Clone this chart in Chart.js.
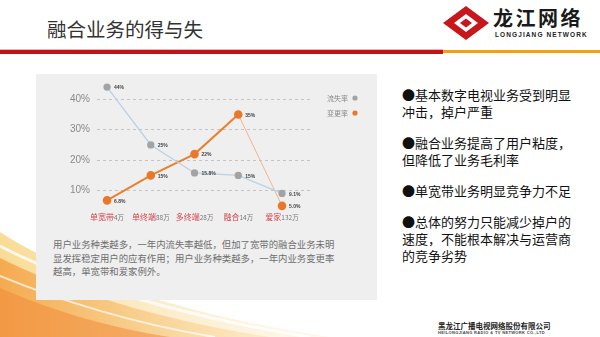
<!DOCTYPE html>
<html lang="zh">
<head>
<meta charset="UTF-8">
<title>融合业务的得与失</title>
<style>
    body {
        margin: 0;
        width: 600px;
        height: 337px;
        background: #ffffff;
        position: relative;
        overflow: hidden;
        font-family: "Noto Sans CJK SC", "Noto Sans", sans-serif;
    }
    .title {
        position: absolute;
        left: 47px;
        top: 16px;
        font-size: 19.5px;
        color: #333;
        line-height: 26px;
    }
    .bar-red {
        position: absolute; left: 0; top: 50px; width: 443px; height: 4px;
        background: #c0141c;
        box-shadow: 0 -1px 0 #f2b0b0;
    }
    .bar-orange {
        position: absolute; left: 443px; top: 50px; width: 157px; height: 3px;
        background: #f0a010;
    }
    .logo-cn {
        position: absolute; left: 493px; top: 6px;
        font-size: 20px; font-weight: bold; letter-spacing: 2.5px; color: #1a1a1a;
        line-height: 24px;
    }
    .logo-en {
        position: absolute; left: 495px; top: 31px;
        font-family: "Liberation Sans", Arial, sans-serif;
        font-size: 6.5px; font-weight: bold; letter-spacing: 1.1px; color: #222;
    }
    .swoosh { position: absolute; left: 0; top: 0; }
    .box {
        position: absolute;
        left: 36px; top: 74px; width: 341px; height: 226px;
        background: #efefef;
    }
    #chart { position: absolute; left: 0; top: -6px; }
    .note {
        position: absolute;
        left: 17px; top: 164px;
        font-size: 9.4px; line-height: 13.5px; color: #6e6e6e;
        white-space: nowrap;
    }
    .bullets {
        position: absolute; left: 402px; top: 86px;
        font-size: 13px; line-height: 17px; color: #111;
    }
    .bullets p { margin: 0 0 14px 0; white-space: nowrap; }
    .footer-cn {
        position: absolute; left: 438px; top: 321px;
        font-size: 7.5px; font-weight: bold; color: #222; line-height: 10px;
    }
    .footer-en {
        position: absolute; left: 438px; top: 330px;
        font-family: "Liberation Sans", Arial, sans-serif;
        font-size: 4px; font-weight: bold; color: #444; letter-spacing: 0.35px;
    }
</style>
</head>
<body>
<svg class="swoosh" width="600" height="337">
    <defs>
        <linearGradient id="g1" x1="0" y1="0" x2="1" y2="0">
            <stop offset="0" stop-color="#f39a3a" stop-opacity="0.75"/>
            <stop offset="1" stop-color="#f7c46a" stop-opacity="0.2"/>
        </linearGradient>
        <linearGradient id="g2" x1="0" y1="0" x2="1" y2="0">
            <stop offset="0" stop-color="#f7d27a" stop-opacity="0.8"/>
            <stop offset="1" stop-color="#fbe3b0" stop-opacity="0.2"/>
        </linearGradient>
    </defs>
    <path d="M0,232 C60,272 180,315 330,337 L0,337 Z" fill="url(#g2)"/>
    <path d="M0,258 C70,293 170,322 270,337 L0,337 Z" fill="url(#g1)"/>
    <path d="M0,288 C50,310 110,328 170,337 L0,337 Z" fill="#f08a3a" opacity="0.55"/>
    <path d="M0,246 C70,283 190,318 310,337" fill="none" stroke="#ffffff" stroke-width="3" opacity="0.8"/>
    <path d="M0,276 C60,301 140,325 215,337" fill="none" stroke="#ffffff" stroke-width="2" opacity="0.7"/>
    <!-- logo mark -->
    <polygon points="466,6 489,23 466,40 443,23" fill="#c8161d"/>
    <polygon points="466,14 478,23 466,32 454,23" fill="#ffffff"/>
    <polygon points="466,18.5 472,23 466,27.5 460,23" fill="#c8161d"/>
</svg>

<div class="title">融合业务的得与失</div>
<div class="bar-red"></div>
<div class="bar-orange"></div>
<div class="logo-cn">龙江网络</div>
<div class="logo-en">LONGJIANG NETWORK</div>

<div class="box">
    <canvas id="chart" width="341" height="167"></canvas>
    <div class="note">用户业务种类越多，一年内流失率越低，但加了宽带的融合业务未明<br>显发挥稳定用户的应有作用；用户业务种类越多，一年内业务变更率<br>越高，单宽带和爱家例外。</div>
</div>

<div class="bullets">
    <p>●基本数字电视业务受到明显<br>冲击，掉户严重</p>
    <p>●融合业务提高了用户粘度，<br>但降低了业务毛利率</p>
    <p>●单宽带业务明显竞争力不足</p>
    <p>●总体的努力只能减少掉户的<br>速度，不能根本解决与运营商<br>的竞争劣势</p>
</div>

<div class="footer-cn">黑龙江广播电视网络股份有限公司</div>
<div class="footer-en">HEILONGJIANG RADIO &amp; TV NETWORK CO.,LTD</div>

<script src="https://cdn.jsdelivr.net/npm/chart.js"></script>
<script>
    const categories = ['单宽带', '单终端', '多终端', '融合', '爱家'];
    const userCounts = ['4万', '88万', '28万', '14万', '132万'];
    const lossRate = [44, 25, 15.8, 15, 9.1];
    const lossLabels = ['44%', '25%', '15.8%', '15%', '9.1%'];
    const changeRate = [6.8, 15, 22, 35, 5.0];
    const changeLabels = ['6.8%', '15%', '22%', '35%', '5.0%'];
    const yTicks = [10, 20, 30, 40];

    const toPoints = arr => arr.map((v, i) => ({ x: i, y: v }));

    // point labels, category labels and the small legend
    const decorations = {
        id: 'decorations',
        afterDatasetsDraw(chart) {
            const ctx = chart.ctx;
            const xs = chart.scales.x, ys = chart.scales.y;
            ctx.save();
            ctx.textBaseline = 'middle';
            ctx.font = 'bold 5px "Liberation Sans", Arial, sans-serif';
            ctx.fillStyle = '#444';
            lossRate.forEach((v, i) => {
                ctx.fillText(lossLabels[i], xs.getPixelForValue(i) + 7, ys.getPixelForValue(v) + 1);
            });
            changeRate.forEach((v, i) => {
                ctx.fillText(changeLabels[i], xs.getPixelForValue(i) + 7, ys.getPixelForValue(v) + 1);
            });

            // category labels: red name + grey count
            const labelY = 149;
            categories.forEach((name, i) => {
                const cx = xs.getPixelForValue(i);
                ctx.font = '8px "Noto Sans CJK SC", sans-serif';
                const w1 = ctx.measureText(name).width;
                ctx.font = '6.5px "Noto Sans CJK SC", sans-serif';
                const w2 = ctx.measureText(userCounts[i]).width;
                const x = cx - (w1 + w2) / 2;
                ctx.textAlign = 'left';
                ctx.font = '8px "Noto Sans CJK SC", sans-serif';
                ctx.fillStyle = '#d5464c';
                ctx.fillText(name, x, labelY);
                ctx.font = '6.5px "Noto Sans CJK SC", sans-serif';
                ctx.fillStyle = '#777';
                ctx.fillText(userCounts[i], x + w1, labelY + 0.5);
            });

            // legend
            chart.data.datasets.forEach((ds, i) => {
                const ly = 30 + i * 15;
                ctx.font = '7px "Noto Sans CJK SC", sans-serif';
                ctx.fillStyle = '#888';
                ctx.textAlign = 'left';
                ctx.fillText(ds.label, 291, ly);
                ctx.beginPath();
                ctx.arc(319, ly, 2.6, 0, Math.PI * 2);
                ctx.fillStyle = ds.pointBackgroundColor;
                ctx.fill();
            });
            ctx.restore();
        }
    };

    new Chart(document.getElementById('chart'), {
        type: 'line',
        data: {
            datasets: [{
                label: '流失率',
                data: toPoints(lossRate),
                borderColor: '#b9d1e8',
                borderWidth: 1.3,
                pointBackgroundColor: '#a3a3a3',
                pointBorderColor: '#a3a3a3',
                pointRadius: 3,
                tension: 0,
                clip: false
            }, {
                label: '变更率',
                data: toPoints(changeRate),
                borderColor: '#ec7f2e',
                borderWidth: 2,
                pointBackgroundColor: '#e9782a',
                pointBorderColor: '#e9782a',
                pointRadius: 3.3,
                tension: 0,
                clip: false,
                segment: {
                    borderWidth: c => c.p1DataIndex === changeRate.length - 1 ? 1 : 2,
                    borderColor: c => c.p1DataIndex === changeRate.length - 1 ? '#f2b489' : '#ec7f2e'
                }
            }]
        },
        options: {
            responsive: false,
            animation: false,
            layout: { padding: { left: 0, right: 67, top: 0, bottom: 20 } },
            plugins: { legend: { display: false }, tooltip: { enabled: false } },
            scales: {
                x: { type: 'linear', min: -0.23, max: 4.64, display: false },
                y: {
                    min: 2,
                    max: 46,
                    afterBuildTicks: s => { s.ticks = yTicks.map(v => ({ value: v })); },
                    afterFit: s => { s.width = 61; },
                    border: { display: false, dash: [3, 3] },
                    grid: { color: '#c4c4c4', drawTicks: false },
                    ticks: {
                        padding: 7,
                        color: '#8a8a8a',
                        font: { size: 10, family: '"Liberation Sans", Arial, sans-serif' },
                        callback: v => v + '%'
                    }
                }
            }
        },
        plugins: [decorations]
    });
</script>
</body>
</html>
